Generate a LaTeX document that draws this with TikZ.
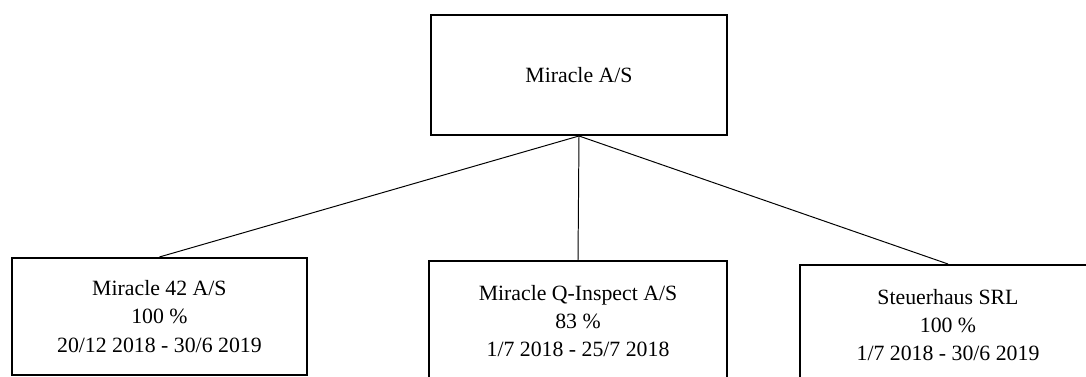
\documentclass[tikz,border=0pt]{standalone}
\usepackage{fontspec}
\setmainfont{Liberation Serif}
\usepackage{tikz}
\usetikzlibrary{positioning}

\begin{document}
\begin{tikzpicture}[
    company/.style={draw, line width=1.4pt, minimum width=7.4cm, minimum height=3cm, align=center, font=\fontsize{15.5}{20}\selectfont},
    link/.style={line width=0.7pt},
    node distance=3cm
]
    \useasboundingbox (0,0) rectangle (27.15,-9.4);

    % Parent
    \node[company] (parent) at (14.475,-1.875) {Miracle A/S};

    % Subsidiaries
    \node[company, below=3.025cm of parent, xshift=-10.49cm, minimum width=7.375cm, minimum height=2.925cm] (m42) {Miracle 42 A/S\\100 \%\\20/12 2018 - 30/6 2019};
    \node[company, below=3.1cm of parent, xshift=-0.025cm, minimum width=7.45cm] (qinsp) {Miracle Q-Inspect A/S\\83 \%\\1/7 2018 - 25/7 2018};
    \node[company, below=3.2cm of parent, xshift=9.225cm] (steuer) {Steuerhaus SRL\\100 \%\\1/7 2018 - 30/6 2019};

    % Links
    \draw[link] (parent.south) -- (m42.north);
    \draw[link] (parent.south) -- (qinsp.north);
    \draw[link] (parent.south) -- (steuer.north);
\end{tikzpicture}
\end{document}
